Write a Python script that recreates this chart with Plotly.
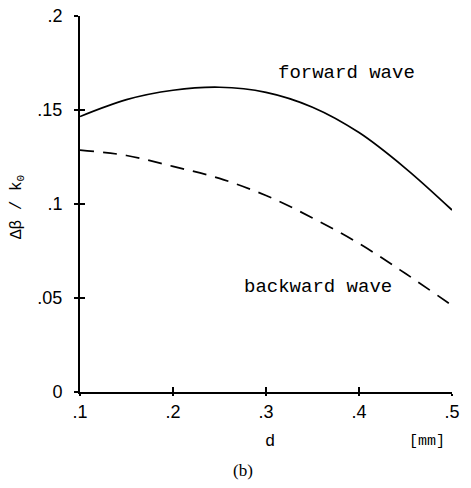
import plotly.graph_objects as go

d_vals = [0.10, 0.15, 0.20, 0.25, 0.30, 0.35, 0.40, 0.45, 0.50]
forward = [0.1465, 0.1555, 0.1605, 0.1621, 0.1594, 0.1515, 0.1380, 0.1190, 0.0968]
backward = [0.1287, 0.1258, 0.1200, 0.1136, 0.1045, 0.0926, 0.0790, 0.0630, 0.0460]

x_ticks = [0.1, 0.2, 0.3, 0.4, 0.5]
x_ticktext = [".1", ".2", ".3", ".4", ".5"]
y_ticks = [0, 0.05, 0.1, 0.15, 0.2]
y_ticktext = ["0", ".05", ".1", ".15", ".2"]

W, H = 471, 488
L, R, T, B = 80, 19, 16, 96
plot_w = W - L - R
plot_h = H - T - B


def px_x(px):
    return (px - L) / plot_w


def px_y(py):
    return (H - B - py) / plot_h


fig = go.Figure()
fig.add_trace(go.Scatter(x=d_vals, y=forward, mode="lines", line=dict(color="black", width=1.7, shape="spline"),
                         showlegend=False, hoverinfo="skip"))
fig.add_trace(go.Scatter(x=d_vals, y=backward, mode="lines",
                         line=dict(color="black", width=1.7, shape="spline", dash="14px,9px"),
                         showlegend=False, hoverinfo="skip"))
# invisible trace hosting the overlay axes (inner halves of the crossing ticks)
fig.add_trace(go.Scatter(x=[d_vals[0]], y=[backward[0]], mode="markers", marker=dict(opacity=0),
                         xaxis="x2", yaxis="y2", showlegend=False, hoverinfo="skip"))

tickfont = dict(family="Liberation Sans", size=18, color="black")
mono = "Liberation Mono, Courier New, monospace"

fig.update_layout(
    width=W, height=H,
    margin=dict(l=L, r=R, t=T, b=B),
    paper_bgcolor="white", plot_bgcolor="white",
    xaxis=dict(range=[0.1, 0.5], tickvals=x_ticks, ticktext=x_ticktext, ticks="outside", ticklen=2,
               tickwidth=1.5, tickcolor="black", showline=True, linecolor="black", linewidth=2,
               showgrid=False, zeroline=False, tickfont=tickfont, ticklabelstandoff=0, automargin=False),
    yaxis=dict(range=[0, 0.2], tickvals=y_ticks, ticktext=y_ticktext, ticks="outside", ticklen=4,
               tickwidth=1.5, tickcolor="black", showline=True, linecolor="black", linewidth=2,
               showgrid=False, zeroline=False, tickfont=tickfont, ticklabelstandoff=8, automargin=False),
    xaxis2=dict(overlaying="x", matches="x", range=[0.1, 0.5], tickvals=x_ticks, ticks="inside", ticklen=5,
                tickwidth=1.5, tickcolor="black", showticklabels=False, showline=False, showgrid=False,
                zeroline=False),
    yaxis2=dict(overlaying="y", matches="y", range=[0, 0.2], tickvals=y_ticks, ticks="inside", ticklen=5,
                tickwidth=1.5, tickcolor="black", showticklabels=False, showline=False, showgrid=False,
                zeroline=False),
)

fig.add_annotation(x=0.387, y=0.1697, xref="x", yref="y", text="forward wave", showarrow=False,
                   xanchor="center", yanchor="middle", font=dict(family=mono, size=19, color="black"))
fig.add_annotation(x=0.356, y=0.056, xref="x", yref="y", text="backward wave", showarrow=False,
                   xanchor="center", yanchor="middle", font=dict(family=mono, size=19, color="black"))
fig.add_annotation(x=px_x(17), y=px_y(207), xref="paper", yref="paper", text="Δβ / k<sub>0</sub>",
                   showarrow=False, textangle=-90, xanchor="center", yanchor="middle",
                   font=dict(family=mono, size=16, color="black"))
fig.add_annotation(x=px_x(270), y=px_y(442), xref="paper", yref="paper", text="d", showarrow=False,
                   xanchor="center", yanchor="middle", font=dict(family=mono, size=17, color="black"))
fig.add_annotation(x=px_x(427), y=px_y(442), xref="paper", yref="paper", text="[mm]", showarrow=False,
                   xanchor="center", yanchor="middle", font=dict(family=mono, size=15, color="black"))
fig.add_annotation(x=px_x(243), y=px_y(470), xref="paper", yref="paper", text="(b)", showarrow=False,
                   xanchor="center", yanchor="middle", font=dict(family="Liberation Serif", size=17, color="black"))

fig.write_html("out.html", config={"displayModeBar": False},
               post_script="document.body.style.margin='0';")
